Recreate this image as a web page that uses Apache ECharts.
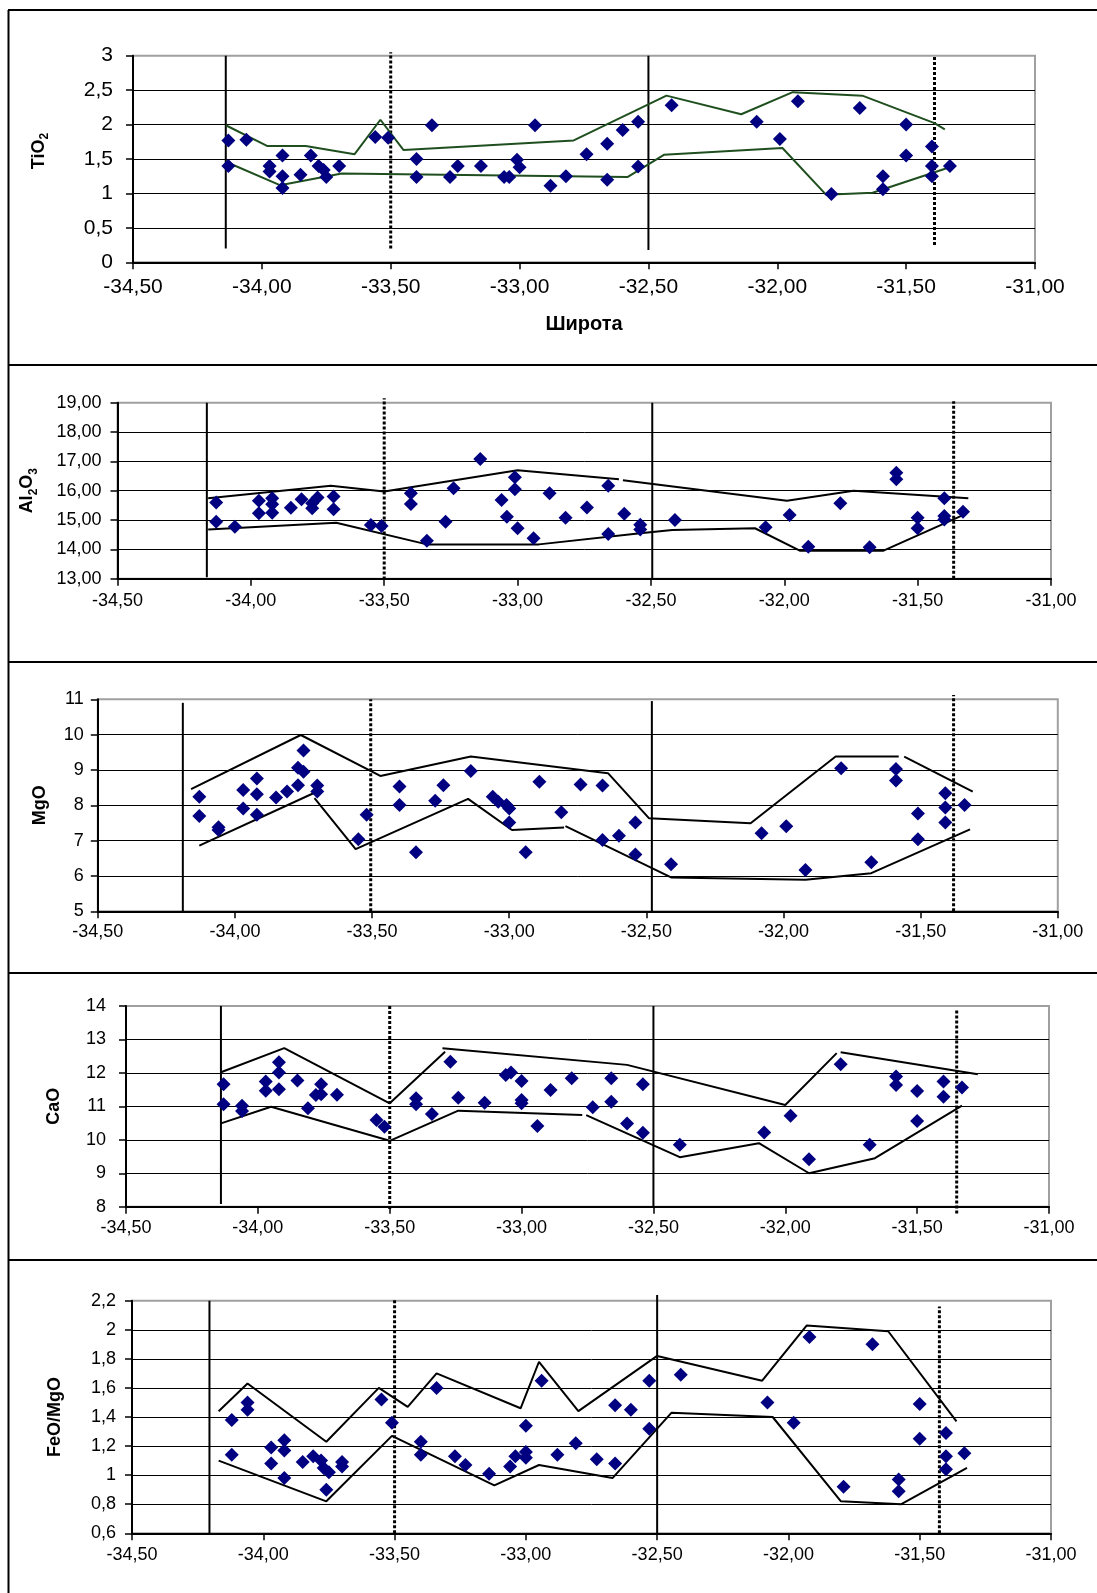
<!DOCTYPE html>
<html><head><meta charset="utf-8">
<script src="https://cdn.jsdelivr.net/npm/echarts@6.0.0/dist/echarts.min.js"></script>
<style>html,body{margin:0;padding:0;background:#fff}#c{width:1097px;height:1593px}</style>
</head><body><div id="c"></div>
<script>
// ---------- DATA (latitude, value) ----------
const xTickRange = [-34.5, -31.0];

const tio2Points = [[-34.13,1.77],[-34.13,1.40],[-34.06,1.78],[-33.97,1.40],[-33.97,1.32],[-33.92,1.55],[-33.92,1.25],[-33.92,1.08],[-33.85,1.27],[-33.81,1.55],[-33.78,1.40],[-33.76,1.34],[-33.75,1.24],[-33.70,1.40],[-33.56,1.82],[-33.51,1.81],[-33.34,1.99],[-33.40,1.50],[-33.40,1.24],[-33.27,1.24],[-33.24,1.40],[-33.15,1.40],[-33.06,1.24],[-33.04,1.24],[-33.01,1.49],[-33.00,1.38],[-32.94,1.99],[-32.88,1.11],[-32.82,1.25],[-32.74,1.57],[-32.66,1.72],[-32.66,1.20],[-32.60,1.92],[-32.54,2.04],[-32.54,1.39],[-32.41,2.28],[-32.08,2.04],[-31.99,1.79],[-31.92,2.34],[-31.79,0.99],[-31.68,2.24],[-31.59,1.25],[-31.59,1.06],[-31.50,2.00],[-31.50,1.55],[-31.40,1.68],[-31.40,1.40],[-31.40,1.25],[-31.33,1.40]];
const tio2Upper = [[-34.14,1.99],[-33.98,1.69],[-33.83,1.69],[-33.64,1.57],[-33.54,2.07],[-33.45,1.63],[-32.79,1.77],[-32.43,2.42],[-32.14,2.15],[-31.94,2.47],[-31.67,2.42],[-31.39,2.02],[-31.35,1.93]];
const tio2Lower = [[-34.14,1.46],[-33.93,1.12],[-33.69,1.29],[-32.58,1.24],[-32.44,1.56],[-31.98,1.66],[-31.81,0.98],[-31.63,1.01],[-31.34,1.37]];
const tio2Solid = [[-34.14,0.2,3.0],[-32.50,0.18,3.0]];
const tio2Dotted = [[-33.50,0.2,3.05],[-31.39,0.25,3.0]];

const al2o3Points = [[-34.13,15.60],[-34.13,14.94],[-34.06,14.77],[-33.97,15.66],[-33.97,15.23],[-33.92,15.74],[-33.92,15.54],[-33.92,15.25],[-33.85,15.42],[-33.81,15.71],[-33.77,15.57],[-33.77,15.40],[-33.75,15.77],[-33.69,15.80],[-33.69,15.37],[-33.55,14.83],[-33.51,14.80],[-33.40,15.91],[-33.40,15.55],[-33.34,14.29],[-33.27,14.94],[-33.24,16.08],[-33.14,17.08],[-33.06,15.68],[-33.04,15.11],[-33.01,16.46],[-33.01,16.05],[-33.00,14.72],[-32.94,14.38],[-32.88,15.91],[-32.82,15.08],[-32.74,15.43],[-32.66,16.17],[-32.66,14.52],[-32.60,15.21],[-32.54,14.84],[-32.54,14.68],[-32.41,15.00],[-32.07,14.75],[-31.98,15.17],[-31.91,14.09],[-31.79,15.57],[-31.68,14.07],[-31.58,16.61],[-31.58,16.39],[-31.50,15.08],[-31.50,14.72],[-31.40,15.74],[-31.40,15.14],[-31.40,15.02],[-31.33,15.28]];
const al2o3Upper1 = [[-34.16,15.74],[-33.70,16.17],[-33.50,15.97],[-33.00,16.70],[-32.62,16.39]];
const al2o3Upper2 = [[-32.605,16.36],[-31.99,15.66],[-31.74,16.00],[-31.31,15.74]];
const al2o3Lower = [[-34.16,14.68],[-33.68,14.91],[-33.34,14.17],[-32.92,14.17],[-32.54,14.55],[-32.42,14.66],[-32.11,14.72],[-31.94,13.95],[-31.63,13.95],[-31.33,15.17]];
const al2o3Solid = [[-34.165,13.05,19.0],[-32.495,13.0,19.0]];
const al2o3Dotted = [[-33.50,12.97,19.15],[-31.365,13.0,19.05]];

const mgoPoints = [[-34.13,8.24],[-34.13,7.70],[-34.06,7.38],[-34.06,7.30],[-33.97,8.43],[-33.97,7.91],[-33.92,8.76],[-33.92,8.31],[-33.92,7.73],[-33.85,8.22],[-33.81,8.39],[-33.77,8.57],[-33.77,9.06],[-33.75,8.95],[-33.75,9.55],[-33.70,8.56],[-33.70,8.39],[-33.55,7.04],[-33.52,7.73],[-33.40,8.53],[-33.40,8.01],[-33.34,6.67],[-33.27,8.13],[-33.24,8.57],[-33.14,8.97],[-33.06,8.24],[-33.04,8.10],[-33.01,8.01],[-33.00,7.91],[-33.00,7.51],[-32.94,6.67],[-32.89,8.67],[-32.81,7.80],[-32.74,8.59],[-32.66,8.56],[-32.66,7.02],[-32.60,7.14],[-32.54,7.51],[-32.54,6.61],[-32.41,6.33],[-32.08,7.21],[-31.99,7.41],[-31.92,6.17],[-31.79,9.05],[-31.68,6.39],[-31.59,9.03],[-31.59,8.70],[-31.51,7.77],[-31.51,7.04],[-31.41,8.34],[-31.41,7.94],[-31.41,7.51],[-31.34,8.01]];
const mgoUpper1 = [[-34.16,8.46],[-33.76,9.99],[-33.47,8.83],[-33.14,9.38],[-32.64,8.91],[-32.49,7.63],[-32.12,7.49],[-31.81,9.38],[-31.58,9.38]];
const mgoUpper2 = [[-31.56,9.38],[-31.31,8.39]];
const mgoLower1 = [[-34.13,6.86],[-33.70,8.39]];
const mgoLower2 = [[-33.71,8.20],[-33.56,6.76],[-33.15,8.18],[-32.99,7.30],[-32.80,7.37]];
const mgoLower3 = [[-32.795,7.41],[-32.41,5.96],[-31.92,5.89],[-31.68,6.08],[-31.32,7.32]];
const mgoSolid = [[-34.19,5.0,10.9],[-32.48,5.0,10.95]];
const mgoDotted = [[-33.505,5.0,11.0],[-31.38,5.0,11.12]];

const caoPoints = [[-34.13,11.66],[-34.13,11.06],[-34.06,11.02],[-34.06,10.86],[-33.97,11.74],[-33.97,11.47],[-33.92,12.32],[-33.92,12.01],[-33.92,11.51],[-33.85,11.77],[-33.81,10.94],[-33.78,11.34],[-33.76,11.66],[-33.76,11.36],[-33.70,11.35],[-33.55,10.59],[-33.52,10.39],[-33.40,11.24],[-33.40,11.06],[-33.34,10.77],[-33.27,12.33],[-33.24,11.26],[-33.14,11.11],[-33.06,11.94],[-33.04,12.01],[-33.00,11.76],[-33.00,11.19],[-33.00,11.09],[-32.94,10.41],[-32.89,11.49],[-32.81,11.84],[-32.73,10.97],[-32.66,11.84],[-32.66,11.14],[-32.60,10.49],[-32.54,11.66],[-32.54,10.21],[-32.40,9.85],[-32.08,10.22],[-31.98,10.72],[-31.91,9.42],[-31.79,12.26],[-31.68,9.85],[-31.58,11.89],[-31.58,11.64],[-31.50,11.46],[-31.50,10.56],[-31.40,11.74],[-31.40,11.29],[-31.33,11.56]];
const caoUpper1 = [[-34.14,12.02],[-33.90,12.74],[-33.50,11.09],[-33.29,12.63]];
const caoUpper2 = [[-33.30,12.74],[-32.60,12.24],[-32.00,11.04],[-31.805,12.59]];
const caoUpper3 = [[-31.79,12.62],[-31.27,11.96]];
const caoLower1 = [[-34.14,10.49],[-33.95,10.99],[-33.50,9.97],[-33.24,10.87],[-32.77,10.74]];
const caoLower2 = [[-32.755,10.74],[-32.40,9.48],[-32.10,9.90],[-31.91,9.00],[-31.66,9.45],[-31.33,11.02]];
const caoSolid = [[-34.14,8.08,14.0],[-32.50,8.0,14.0]];
const caoDotted = [[-33.50,7.93,14.0],[-31.35,7.8,13.88]];

const feoPoints = [[-34.12,1.38],[-34.12,1.14],[-34.06,1.50],[-34.06,1.45],[-33.97,1.19],[-33.97,1.08],[-33.92,1.24],[-33.92,1.17],[-33.92,0.98],[-33.85,1.09],[-33.81,1.13],[-33.78,1.10],[-33.77,1.05],[-33.75,1.02],[-33.76,0.90],[-33.70,1.09],[-33.70,1.06],[-33.55,1.52],[-33.51,1.36],[-33.40,1.23],[-33.40,1.14],[-33.34,1.60],[-33.27,1.13],[-33.23,1.07],[-33.14,1.01],[-33.06,1.06],[-33.04,1.13],[-33.00,1.16],[-33.00,1.12],[-33.00,1.34],[-32.94,1.65],[-32.88,1.14],[-32.81,1.22],[-32.73,1.11],[-32.66,1.48],[-32.66,1.08],[-32.60,1.45],[-32.53,1.65],[-32.53,1.32],[-32.41,1.69],[-32.08,1.50],[-31.98,1.36],[-31.92,1.95],[-31.79,0.92],[-31.68,1.90],[-31.58,0.97],[-31.58,0.89],[-31.50,1.49],[-31.50,1.25],[-31.40,1.29],[-31.40,1.13],[-31.40,1.04],[-31.33,1.15]];
const feoUpper = [[-34.17,1.44],[-34.06,1.63],[-33.76,1.23],[-33.56,1.60],[-33.45,1.47],[-33.34,1.70],[-33.02,1.46],[-32.95,1.78],[-32.80,1.44],[-32.50,1.82],[-32.10,1.65],[-31.93,2.03],[-31.62,1.99],[-31.36,1.37]];
const feoLower = [[-34.17,1.10],[-33.76,0.82],[-33.51,1.27],[-33.12,0.93],[-32.95,1.07],[-32.67,0.98],[-32.445,1.43],[-32.06,1.40],[-31.80,0.82],[-31.57,0.80],[-31.32,1.05]];
const feoSolid = [[-34.205,0.6,2.2],[-32.50,0.6,2.24]];
const feoDotted = [[-33.50,0.6,2.216],[-31.425,0.6,2.16]];

// ---------- PANELS ----------
const panels = [
  {name:'TiO{s|2}', points:tio2Points, env:[tio2Upper,tio2Lower], solid:tio2Solid, dotted:tio2Dotted,
   yMin:0, yMax:3, yInt:0.5, dec:null, envColor:'#1f4f1f', xName:'Широта'},
  {name:'Al{s|2}O{s|3}', points:al2o3Points, env:[al2o3Upper1,al2o3Upper2,al2o3Lower], solid:al2o3Solid, dotted:al2o3Dotted,
   yMin:13, yMax:19, yInt:1, dec:2, envColor:'#000'},
  {name:'MgO', points:mgoPoints, env:[mgoUpper1,mgoUpper2,mgoLower1,mgoLower2,mgoLower3], solid:mgoSolid, dotted:mgoDotted,
   yMin:5, yMax:11, yInt:1, dec:0, envColor:'#000'},
  {name:'CaO', points:caoPoints, env:[caoUpper1,caoUpper2,caoUpper3,caoLower1,caoLower2], solid:caoSolid, dotted:caoDotted,
   yMin:8, yMax:14, yInt:1, dec:0, envColor:'#000'},
  {name:'FeO/MgO', points:feoPoints, env:[feoUpper,feoLower], solid:feoSolid, dotted:feoDotted,
   yMin:0.6, yMax:2.2, yInt:0.2, dec:null, envColor:'#000'}
];

// ---------- LAYOUT ----------
const layout = [
  {left:133, top:55.7, width:902, height:206.6, fs:21, yMargin:20, xMargin:14, nameGap:82, namePad:[0,0,0,16]},
  {left:117.5, top:402.7, width:933.5, height:176, fs:18, yMargin:16, xMargin:13, nameGap:78, namePad:[0,0,0,0]},
  {left:97.8, top:699.3, width:960, height:212, fs:18, yMargin:14, xMargin:12, nameGap:46, namePad:[0,0,0,0]},
  {left:126, top:1006, width:923, height:200.7, fs:18, yMargin:20, xMargin:12, nameGap:60, namePad:[0,0,0,0]},
  {left:132, top:1300.7, width:919, height:232.6, fs:18, yMargin:16, xMargin:13, nameGap:65, namePad:[0,0,0,0]}
];
const panelEdges = [10, 365, 662, 973, 1260];
const FONT = '"Liberation Sans", Arial, sans-serif';

function fmtY(v, dec){
  const s = dec == null ? String(+v.toFixed(3)) : v.toFixed(dec);
  return s.replace('.', ',');
}

const grid = [], xAxis = [], yAxis = [], series = [];
panels.forEach((p, i) => {
  const L = layout[i];
  grid.push({left:L.left, top:L.top, width:L.width, height:L.height, show:true,
    backgroundColor:'#fff', borderColor:'#a0a0a0', borderWidth:2, containLabel:false});
  xAxis.push({type:'value', gridIndex:i, min:xTickRange[0], max:xTickRange[1], interval:0.5,
    axisLine:{show:true, onZero:false, lineStyle:{color:'#000', width:2}},
    axisTick:{show:true, inside:false, length:7, lineStyle:{color:'#000', width:1.5}},
    splitLine:{show:false},
    axisLabel:{fontFamily:FONT, fontSize:L.fs, color:'#000', margin:L.xMargin,
      formatter:v => v.toFixed(2).replace('.', ',')},
    name: p.xName || '', nameLocation:'middle', nameGap:52,
    nameTextStyle:{fontFamily:FONT, fontSize:20, fontWeight:'bold', color:'#000'}
  });
  yAxis.push({type:'value', gridIndex:i, min:p.yMin, max:p.yMax, interval:p.yInt,
    axisLine:{show:true, onZero:false, lineStyle:{color:'#000', width:2}},
    axisTick:{show:true, inside:false, length:7, lineStyle:{color:'#000', width:1.5}},
    splitLine:{show:true, showMinLine:false, showMaxLine:false, lineStyle:{color:'#000', width:1}},
    axisLabel:{fontFamily:FONT, fontSize:L.fs, color:'#000', margin:L.yMargin,
      formatter:v => fmtY(v, p.dec)},
    name:p.name, nameLocation:'middle', nameRotate:90, nameGap:L.nameGap,
    nameTextStyle:{fontFamily:FONT, fontSize:18, fontWeight:'bold', color:'#000', lineHeight:24, padding:L.namePad,
      rich:{s:{fontFamily:FONT, fontSize:12, fontWeight:'bold', color:'#000', verticalAlign:'bottom', lineHeight:24}}}
  });
  p.solid.forEach(s => series.push({type:'line', xAxisIndex:i, yAxisIndex:i, data:[[s[0],s[1]],[s[0],s[2]]],
    symbol:'none', clip:false, silent:true, z:2, lineStyle:{color:'#000', width:2}}));
  p.dotted.forEach(s => series.push({type:'line', xAxisIndex:i, yAxisIndex:i, data:[[s[0],s[1]],[s[0],s[2]]],
    symbol:'none', clip:false, silent:true, z:2, lineStyle:{color:'#000', width:3, type:[3,2], cap:'butt'}}));
  p.env.forEach(seg => series.push({type:'line', xAxisIndex:i, yAxisIndex:i, data:seg,
    symbol:'none', clip:false, silent:true, z:3, lineStyle:{color:p.envColor, width:2}}));
  series.push({type:'scatter', xAxisIndex:i, yAxisIndex:i, data:p.points, symbol:'diamond',
    symbolSize:14, itemStyle:{color:'#000080', opacity:1}, z:5});
});

const graphic = [];
panelEdges.forEach(y => graphic.push({type:'line', shape:{x1:8, y1:y, x2:1097, y2:y},
  style:{stroke:'#000', lineWidth:2}, z:100}));
graphic.push({type:'line', shape:{x1:8.5, y1:10, x2:8.5, y2:1593}, style:{stroke:'#000', lineWidth:2}, z:100});

const chart = echarts.init(document.getElementById('c'), null, {renderer:'canvas'});
chart.setOption({animation:false, backgroundColor:'#fff', grid, xAxis, yAxis, series, graphic});
</script></body></html>
